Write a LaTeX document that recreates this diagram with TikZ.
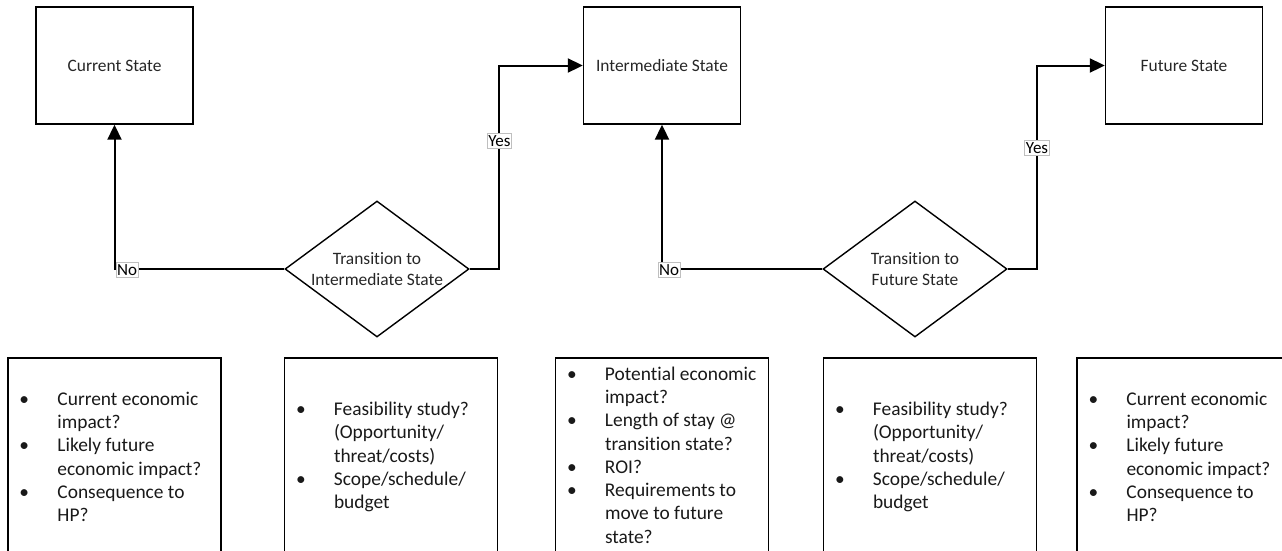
\documentclass[tikz,border=0pt]{standalone}
\usepackage{fontspec}
\setmainfont{Carlito}[Ligatures={NoCommon,NoRare,NoDiscretionary}]
\usetikzlibrary{shapes.geometric,arrows.meta}
\newcommand\bul{\makebox[38pt][l]{\textbullet}}
\newcommand\ind{\hspace*{38pt}}
\begin{document}
\begin{tikzpicture}[x=1pt,y=-1pt,
  statebox/.style={draw,line width=1.4pt,minimum width=157pt,minimum height=117pt,inner sep=0pt,font=\fontsize{17.4}{21.1}\selectfont,text=black!85},
  decision/.style={draw,diamond,aspect=1.353,line width=1.4pt,minimum width=184pt,minimum height=136pt,inner sep=0pt},
  dtext/.style={align=center,font=\fontsize{17.4}{21.1}\selectfont,inner sep=0pt,text=black!85},
  notebox/.style={draw,line width=1.4pt,minimum width=213pt,minimum height=198pt,inner sep=0pt},
  notetext/.style={anchor=west,align=left,inner sep=0pt,font=\fontsize{19.4}{23.3}\selectfont,text=black!90},
  conn/.style={line width=2pt,-{Triangle[length=15pt,width=14pt]}},
  wire/.style={line width=2pt},
  lbl/.style={draw=black!25,fill=white,line width=0.6pt,inner xsep=1.2pt,inner ysep=2.2pt,font=\fontsize{17}{18}\selectfont}
]
\useasboundingbox (0,0) rectangle (1282,550);

% state boxes
\node[statebox] (cs) at (114.5,65.5) {Current State};
\node[statebox] (is) at (662,65.5) {Intermediate State};
\node[statebox] (fs) at (1184,65.5) {Future State};

% decisions
\node[decision] (d1) at (377,269) {};
\node[dtext] (d1t) at (d1.center) {Transition to\\Intermediate State};
\node[decision] (d2) at (915,269) {};
\node[dtext] (d2t) at (d2.center) {Transition to\\Future State};

% connectors
\coordinate (k1) at (499,269);
\coordinate (k2) at (1037,269);
\draw[conn] (d1.west) -| (cs.south);
\draw[conn] (d1.east) -- (k1) |- (is.west);
\draw[conn] (d2.west) -| (is.south);
\draw[conn] (d2.east) -- (k2) |- (fs.west);

% labels
\node[lbl] (no1) at (127,270) {No};
\node[lbl] (yes1) at (499.5,141) {Yes};
\node[lbl] (no2) at (669,270) {No};
\node[lbl] (yes2) at (1037,148) {Yes};

% note boxes
\node[notebox] (n1) at (114.5,457) {};
\node[notebox] (n2) at (391,457) {};
\node[notebox] (n3) at (662,457) {};
\node[notebox] (n4) at (930,457) {};
\node[notebox] (n5) at (1183.5,457) {};

\node[notetext] (t1) at ([xshift=12pt]n1.west) {\bul Current economic\\\ind impact?\\\bul Likely future\\\ind economic impact?\\\bul Consequence to\\\ind HP?};
\node[notetext] (t2) at ([xshift=12pt]n2.west) {\bul Feasibility study?\\\ind (Opportunity/\\\ind threat/costs)\\\bul Scope/schedule/\\\ind budget};
\node[notetext] (t3) at ([xshift=12pt,yshift=2pt]n3.west) {\bul Potential economic\\\ind impact?\\\bul Length of stay @\\\ind transition state?\\\bul ROI?\\\bul Requirements to\\\ind move to future\\\ind state?};
\node[notetext] (t4) at ([xshift=12pt]n4.west) {\bul Feasibility study?\\\ind (Opportunity/\\\ind threat/costs)\\\bul Scope/schedule/\\\ind budget};
\node[notetext] (t5) at ([xshift=12pt]n5.west) {\bul Current economic\\\ind impact?\\\bul Likely future\\\ind economic impact?\\\bul Consequence to\\\ind HP?};
\end{tikzpicture}
\end{document}
